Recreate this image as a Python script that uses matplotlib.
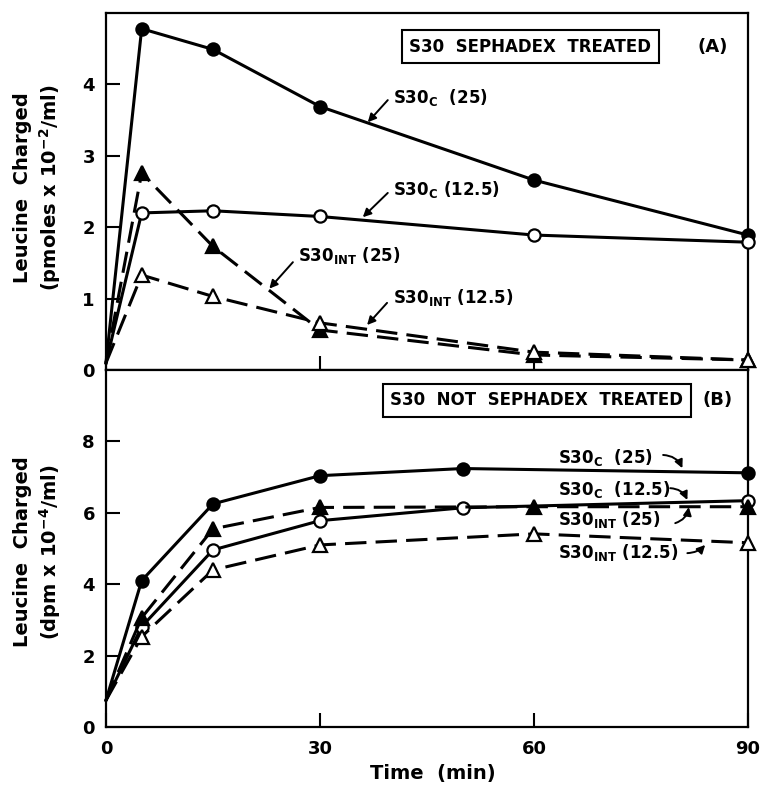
import matplotlib
matplotlib.use("Agg")
import matplotlib.pyplot as plt

plt.rcParams['font.family'] = ['DejaVu Sans']
plt.rcParams['mathtext.default'] = 'regular'

# ---------------- data ----------------
t_A = [0, 5, 15, 30, 60, 90]
A_c25 = [0.1, 4.78, 4.49, 3.69, 2.66, 1.89]
A_c125 = [0.1, 2.20, 2.23, 2.15, 1.89, 1.79]
A_int25 = [0.1, 2.76, 1.73, 0.56, 0.21, 0.14]
A_int125 = [0.1, 1.33, 1.03, 0.66, 0.25, 0.14]

t_B_c = [0, 5, 15, 30, 50, 90]
t_B_int = [0, 5, 15, 30, 60, 90]
B_c25 = [0.75, 4.10, 6.25, 7.04, 7.24, 7.12]
B_c125 = [0.75, 2.81, 4.96, 5.78, 6.14, 6.34]
B_int25 = [0.75, 3.06, 5.55, 6.15, 6.17, 6.17]
B_int125 = [0.75, 2.53, 4.40, 5.10, 5.41, 5.16]

x_ticks = [0, 30, 60, 90]
A_yticks = [0, 1, 2, 3, 4]
B_yticks = [0, 2, 4, 6, 8]

# ---------------- figure ----------------
W, H = 762, 785
fig = plt.figure(figsize=(W / 100, H / 100), dpi=100)
left, right = 106 / W, 748 / W
yA_top, ymid, yB_bot = 1 - 13 / H, 1 - 370 / H, 1 - 727 / H
axA = fig.add_axes([left, ymid, right - left, yA_top - ymid])
axB = fig.add_axes([left, yB_bot, right - left, ymid - yB_bot])

LW = 2.2
DASH = (0, (7, 3))
MS = 8.8


def series(ax, t, y, marker, filled, dashed):
    ax.plot(t, y, color='black', lw=LW,
            linestyle=DASH if dashed else '-',
            marker=marker, markersize=MS if marker == 'o' else MS + 1,
            markerfacecolor='black' if filled else 'white',
            markeredgecolor='black', markeredgewidth=1.6,
            markevery=list(range(1, len(t))), clip_on=False, zorder=3)


series(axA, t_A, A_c25, 'o', True, False)
series(axA, t_A, A_c125, 'o', False, False)
series(axA, t_A, A_int25, '^', True, True)
series(axA, t_A, A_int125, '^', False, True)

series(axB, t_B_c, B_c25, 'o', True, False)
series(axB, t_B_c, B_c125, 'o', False, False)
series(axB, t_B_int, B_int25, '^', True, True)
series(axB, t_B_int, B_int125, '^', False, True)

for ax, ylim, yt in ((axA, (0, 5), A_yticks), (axB, (0, 10), B_yticks)):
    ax.set_xlim(0, 90)
    ax.set_ylim(*ylim)
    ax.set_yticks(yt)
    ax.set_xticks(x_ticks)
    ax.tick_params(direction='in', length=10, width=1.5, labelsize=13,
                   pad=8)
    for s in ax.spines.values():
        s.set_linewidth(1.6)
    for lab in ax.get_yticklabels() + ax.get_xticklabels():
        lab.set_fontweight('bold')

axA.tick_params(axis='x', labelbottom=False)
axB.tick_params(axis='x', pad=9)

# axis labels
axA.text(-0.13, 0.51, 'Leucine  Charged', transform=axA.transAxes,
         rotation=90, ha='center', va='center', fontsize=14,
         fontweight='bold')
axA.text(-0.087, 0.51, '(pmoles x 10$^{-2}$/ml)', transform=axA.transAxes,
         rotation=90, ha='center', va='center', fontsize=14,
         fontweight='bold')
axB.text(-0.13, 0.49, 'Leucine  Charged', transform=axB.transAxes,
         rotation=90, ha='center', va='center', fontsize=14,
         fontweight='bold')
axB.text(-0.087, 0.49, '(dpm x 10$^{-4}$/ml)', transform=axB.transAxes,
         rotation=90, ha='center', va='center', fontsize=14,
         fontweight='bold')
fig.text(433 / W, 1 - 773 / H, 'Time  (min)', ha='center', va='center',
         fontsize=14, fontweight='bold')

# boxes
box = dict(boxstyle='square,pad=0.45', fc='white', ec='black', lw=1.5)
axA.text(0.661, 0.905, 'S30  SEPHADEX  TREATED', transform=axA.transAxes,
         ha='center', va='center', fontsize=12, fontweight='bold', bbox=box)
axA.text(0.945, 0.905, '(A)', transform=axA.transAxes, ha='center',
         va='center', fontsize=13, fontweight='bold')
axB.text(0.671, 0.915, 'S30  NOT  SEPHADEX  TREATED', transform=axB.transAxes,
         ha='center', va='center', fontsize=12, fontweight='bold', bbox=box)
axB.text(0.952, 0.915, '(B)', transform=axB.transAxes, ha='center',
         va='center', fontsize=13, fontweight='bold')

ap = dict(arrowstyle='-|>', color='black', lw=1.4, shrinkA=0, shrinkB=0,
          mutation_scale=12)


def label(ax, txt, xy_text, tail, tip, rad=0.0):
    ax.text(xy_text[0], xy_text[1], txt, ha='left', va='center',
            fontsize=12, fontweight='bold')
    p = dict(ap)
    p['connectionstyle'] = 'arc3,rad=%s' % rad
    ax.annotate('', xy=tip, xytext=tail, arrowprops=p)


label(axA, 'S30$_{C}$  (25)', (40.2, 3.82), (39.5, 3.78), (36.7, 3.47))
label(axA, 'S30$_{C}$ (12.5)', (40.2, 2.53), (39.5, 2.48), (36.0, 2.14))
label(axA, 'S30$_{INT}$ (25)', (26.9, 1.61), (26.2, 1.51), (22.9, 1.14))
label(axA, 'S30$_{INT}$ (12.5)', (40.2, 1.01), (39.4, 0.94), (36.6, 0.63))

label(axB, 'S30$_{C}$  (25)', (63.4, 7.56), (78.1, 7.62), (80.8, 7.25), -0.3)
label(axB, 'S30$_{C}$  (12.5)', (63.4, 6.64), (79.1, 6.69), (81.5, 6.36), -0.3)
label(axB, 'S30$_{INT}$ (25)', (63.4, 5.80), (79.8, 5.71), (81.7, 6.16), 0.3)
label(axB, 'S30$_{INT}$ (12.5)', (63.4, 4.90), (81.5, 4.87), (84.0, 5.10), 0.2)

fig.savefig('out.png', dpi=100)
